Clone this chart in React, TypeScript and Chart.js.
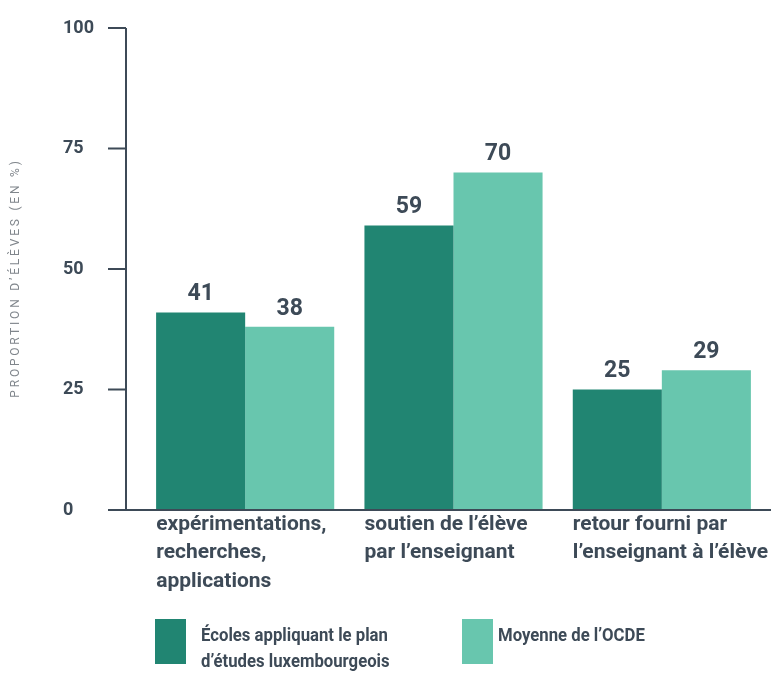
import React, { useEffect, useRef } from 'react';
import { Chart, registerables } from 'chart.js';

Chart.register(...registerables);

const categories: string[][] = [
  ['expérimentations,', 'recherches,', 'applications'],
  ['soutien de l’élève', 'par l’enseignant'],
  ['retour fourni par', 'l’enseignant à l’élève'],
];
const seriesNames: string[][] = [
  ['Écoles appliquant le plan', 'd’études luxembourgeois'],
  ['Moyenne de l’OCDE'],
];
const luxValues = [41, 59, 25];
const oecdValues = [38, 70, 29];
const yMin = 0;
const yMax = 100;
const yStep = 25;
const yTitle = 'PROPORTION D’ÉLÈVES (EN %)';

const DARK = '#218572';
const LIGHT = '#68c6ae';
const TEXT = '#3d4a57';
const FONT = 'Roboto, "DejaVu Sans", sans-serif';

const axisPlugin = {
  id: 'customAxes',
  afterDatasetsDraw(chart: any) {
    const { ctx, chartArea, scales } = chart;
    const y = scales.y;
    const axisX = chartArea.left - 15;
    const y0 = y.getPixelForValue(yMin);
    const y1 = y.getPixelForValue(yMax);
    ctx.save();
    ctx.strokeStyle = TEXT;
    ctx.lineWidth = 2;
    ctx.beginPath();
    ctx.moveTo(axisX, y1);
    ctx.lineTo(axisX, y0);
    y.ticks.forEach((t: any) => {
      const py = y.getPixelForValue(t.value);
      ctx.moveTo(axisX - 18, py);
      ctx.lineTo(axisX, py);
    });
    ctx.moveTo(axisX - 18, y0);
    ctx.lineTo(chart.width, y0);
    ctx.stroke();

    // value labels
    ctx.fillStyle = TEXT;
    ctx.font = `700 23px ${FONT}`;
    ctx.textAlign = 'center';
    ctx.textBaseline = 'middle';
    chart.data.datasets.forEach((ds: any, di: number) => {
      const meta = chart.getDatasetMeta(di);
      meta.data.forEach((el: any, i: number) => {
        ctx.fillText(String(ds.data[i]), el.x, el.y - 18);
      });
    });

    // y title
    ctx.font = `400 12px ${FONT}`;
    ctx.fillStyle = '#80868c';
    (ctx as any).letterSpacing = '2.8px';
    ctx.translate(16, (chartArea.top + chartArea.bottom) / 2 + 9);
    ctx.rotate(-Math.PI / 2);
    ctx.fillText(yTitle, 0, 0);
    ctx.restore();
  },
};

export default function App() {
  const ref = useRef<HTMLCanvasElement | null>(null);
  useEffect(() => {
    if (!ref.current) return;
    const chart = new Chart(ref.current, {
      type: 'bar',
      data: {
        labels: categories,
        datasets: [
          {
            label: seriesNames[0].join(' '),
            data: luxValues,
            backgroundColor: DARK,
            barPercentage: 1,
            categoryPercentage: 0.855,
          },
          {
            label: seriesNames[1].join(' '),
            data: oecdValues,
            backgroundColor: LIGHT,
            barPercentage: 1,
            categoryPercentage: 0.855,
          },
        ],
      },
      options: {
        animation: false,
        responsive: false,
        layout: { padding: { left: 63, right: 5, top: 28, bottom: 0 } },
        plugins: { legend: { display: false }, tooltip: { enabled: false } },
        scales: {
          x: {
            grid: { display: false, drawTicks: false },
            border: { display: false },
            ticks: {
              color: TEXT,
              font: { family: FONT, size: 21, weight: 'bold', lineHeight: 1.36 },
              align: 'start',
              labelOffset: -89,
              padding: 0,
              autoSkip: false,
              maxRotation: 0,
              minRotation: 0,
            },
            afterFit(scale: any) {
              scale.height = 163;
              scale.paddingLeft = 0;
              scale.paddingRight = 0;
            },
          },
          y: {
            min: yMin,
            max: yMax,
            grid: { display: false, drawTicks: false },
            border: { display: false },
            ticks: {
              stepSize: yStep,
              color: TEXT,
              crossAlign: 'far',
              padding: 0,
              font: { family: FONT, size: 18, weight: 'bold' },
            },
            afterFit(scale: any) {
              scale.width = 78;
            },
          },
        },
      },
      plugins: [axisPlugin],
    } as any);
    return () => chart.destroy();
  }, []);

  const legendText: React.CSSProperties = {
    position: 'absolute',
    font: `700 19px ${FONT}`,
    lineHeight: '26px',
    color: TEXT,
    whiteSpace: 'nowrap',
    transform: 'scaleX(0.88)',
    transformOrigin: 'left top',
  };

  return (
    <div style={{ position: 'fixed', left: 0, top: 0, width: 771, height: 673, background: '#fff' }}>
      <canvas ref={ref} width={771} height={673} style={{ display: 'block' }} />
      <div style={{ position: 'absolute', left: 155, top: 619, width: 31, height: 45, background: DARK }} />
      <div style={{ ...legendText, left: 201, top: 622 }}>
        {seriesNames[0].map((l, i) => (
          <div key={i}>{l}</div>
        ))}
      </div>
      <div style={{ position: 'absolute', left: 462, top: 619, width: 31, height: 45, background: LIGHT }} />
      <div style={{ ...legendText, left: 498, top: 622 }}>
        {seriesNames[1].map((l, i) => (
          <div key={i}>{l}</div>
        ))}
      </div>
    </div>
  );
}
